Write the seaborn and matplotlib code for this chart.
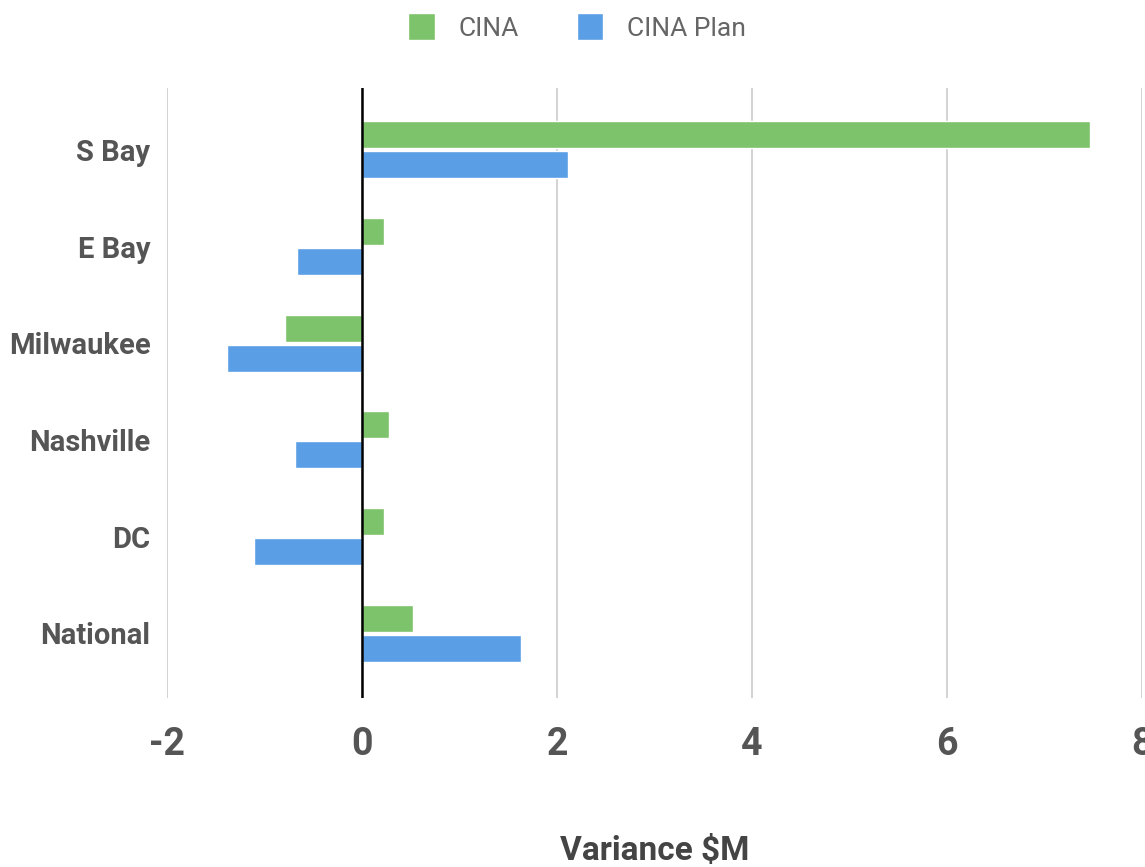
import matplotlib
matplotlib.use("Agg")
import matplotlib.pyplot as plt
import seaborn as sns
import pandas as pd

regions = ["S Bay", "E Bay", "Milwaukee", "Nashville", "DC", "National"]
cina = [7.47, 0.23, -0.79, 0.28, 0.23, 0.52]
cina_plan = [2.11, -0.67, -1.39, -0.69, -1.11, 1.63]
series_names = ["CINA", "CINA Plan"]
x_ticks = [-2, 0, 2, 4, 6, 8]
x_label = "Variance $M"

colors = ["#7DC36B", "#5A9EE6"]

df = pd.DataFrame({
    "region": regions * 2,
    "value": cina + cina_plan,
    "series": [series_names[0]] * len(regions) + [series_names[1]] * len(regions),
})

sns.set_theme(style="white")
plt.rcParams['font.family'] = ['Roboto', 'DejaVu Sans']
plt.rcParams['font.stretch'] = 'condensed'

fig = plt.figure(figsize=(11.45, 8.67), dpi=100)
ax = fig.add_axes([0.1459, 0.195, 0.8515, 0.7035])

sns.barplot(data=df, y="region", x="value", hue="series", orient="h",
            palette=colors, width=0.62, gap=0.1, ax=ax, legend=True,
            order=regions, hue_order=series_names, saturation=1)

ax.set_xlim(-2, 8)
ax.set_ylim(5.67, -0.64)
ax.set_xticks(x_ticks)
ax.set_xticklabels([str(t) for t in x_ticks])
ax.grid(axis="x", color="#cccccc", linewidth=1.2)
ax.set_axisbelow(True)
ax.axvline(0, color="black", linewidth=1.8, zorder=3)
for s in ax.spines.values():
    s.set_visible(False)
ax.tick_params(axis="both", length=0)
ax.tick_params(axis="x", pad=20, labelsize=27, labelcolor="#555555")
ax.tick_params(axis="y", pad=12, labelsize=21, labelcolor="#555555")
for lab in ax.get_xticklabels() + ax.get_yticklabels():
    lab.set_fontweight("bold")
ax.set_ylabel("")
ax.set_xlabel(x_label, fontsize=24, fontweight="bold", color="#444444", labelpad=52)

handles, labels = ax.get_legend_handles_labels()
ax.get_legend().remove()
fig.legend(handles, labels, loc="upper center", bbox_to_anchor=(0.504, 1.012),
           ncol=2, frameon=False, fontsize=19, handlelength=1.0, handleheight=1.2,
           handletextpad=0.9, columnspacing=2.2, labelcolor="#666666")

fig.savefig("out.png", dpi=100, facecolor="white")
